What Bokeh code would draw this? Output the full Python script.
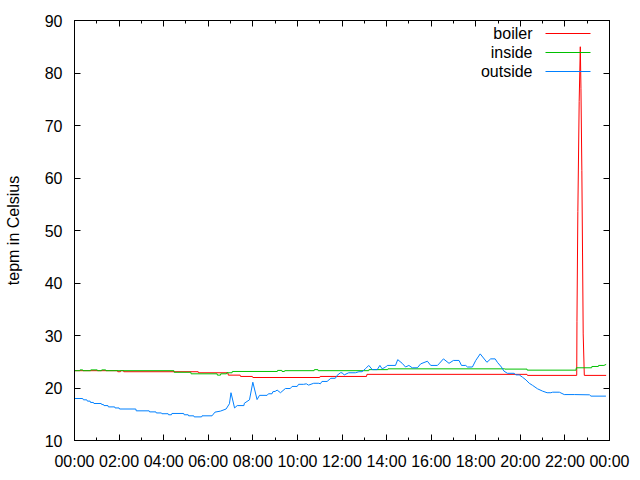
from bokeh.plotting import figure
from bokeh.models import Range1d, FixedTicker, LinearAxis, Label, Arrow
from bokeh.embed import file_html
from bokeh.resources import INLINE

# ---------------- data (hours of day, degrees Celsius) ----------------
boiler_time = [0.0, 1.93, 1.94, 2.06, 2.07, 2.20, 2.21, 5.55, 5.56, 6.88, 6.90, 7.43, 7.45, 7.98,
               8.00, 11.00, 11.02, 13.10, 13.12, 20.30, 20.32, 22.53, 22.54, 22.58, 22.64, 22.69,
               22.72, 22.76, 22.79, 22.82, 22.87, 23.85]
boiler_temp = [23.3, 23.3, 23.1, 23.1, 23.3, 23.3, 23.1, 23.1, 22.9, 22.9, 22.45, 22.45, 22.2, 22.2,
               22.0, 22.0, 22.2, 22.2, 22.6, 22.6, 22.4, 22.4, 32.7, 53.6, 74.6, 85.0,
               77.0, 61.4, 45.9, 30.3, 22.4, 22.4]

inside_time = [0.0, 0.24, 0.25, 0.37, 0.38, 0.72, 0.73, 1.02, 1.03, 1.21, 1.22, 1.40, 1.41, 4.46,
               4.47, 5.22, 5.23, 6.40, 6.41, 6.55, 6.56, 6.82, 6.83, 7.07, 7.08, 9.10, 9.11, 9.30,
               9.31, 9.42, 9.43, 10.75, 10.76, 10.92, 10.93, 13.20, 13.21, 14.05, 14.06, 19.30,
               19.31, 20.30, 20.31, 22.50, 22.51, 23.20, 23.21, 23.50, 23.51, 23.75, 23.85]
inside_temp = [23.3, 23.3, 23.45, 23.45, 23.3, 23.3, 23.45, 23.45, 23.3, 23.3, 23.45, 23.45, 23.3, 23.3,
               23.0, 23.0, 22.7, 22.7, 22.45, 22.45, 22.7, 22.7, 22.9, 22.9, 23.15, 23.15, 23.35, 23.35,
               23.15, 23.15, 23.3, 23.3, 23.5, 23.5, 23.3, 23.3, 23.5, 23.5, 23.65, 23.65,
               23.6, 23.6, 23.4, 23.4, 23.85, 23.85, 24.1, 24.1, 24.3, 24.3, 24.5]

outside_time = [0.0, 0.37, 0.40, 0.55, 0.58, 0.70, 0.72, 0.85, 0.87, 1.20, 1.22, 1.30, 1.32, 1.50,
                1.52, 1.80, 1.82, 2.00, 2.02, 2.75, 2.77, 3.35, 3.37, 3.65, 3.67, 3.90, 3.92, 4.20,
                4.22, 4.35, 4.37, 4.90, 4.92, 5.10, 5.12, 5.35, 5.37, 5.70, 5.72, 6.17, 6.30, 6.55,
                6.80, 6.95, 7.02, 7.18, 7.30, 7.60, 7.62, 7.85, 8.00, 8.19, 8.30, 8.64, 8.70, 8.86,
                8.90, 9.00, 9.09, 9.24, 9.46, 9.68, 9.76, 9.99, 10.05, 10.28, 10.40, 10.50, 10.73,
                10.96, 11.03, 11.10, 11.33, 11.50, 11.70, 11.78, 11.93, 12.00, 12.10, 12.30, 12.60,
                12.76, 12.90, 13.06, 13.20, 13.36, 13.58, 13.70, 13.80, 13.96, 14.03, 14.40, 14.50,
                14.70, 14.85, 15.00, 15.15, 15.38, 15.53, 15.83, 15.98, 16.28, 16.35, 16.55, 16.80,
                17.00, 17.25, 17.36, 17.55, 17.63, 17.85, 18.00, 18.20, 18.50, 18.67, 18.87, 18.97,
                19.15, 19.27, 19.42, 19.72, 19.80, 19.95, 20.10, 20.25, 20.40, 20.55, 20.77, 21.00,
                21.20, 21.37, 21.45, 21.75, 21.97, 22.42, 23.10, 23.17, 23.84]
outside_temp = [18.0, 18.0, 17.75, 17.75, 17.5, 17.5, 17.25, 17.25, 17.05, 17.05, 16.85, 16.85, 16.65, 16.65,
                16.4, 16.4, 16.2, 16.2, 16.0, 16.0, 15.65, 15.65, 15.45, 15.45, 15.25, 15.25, 15.1, 15.1,
                14.9, 14.9, 15.15, 15.15, 14.9, 14.9, 14.7, 14.7, 14.5, 14.5, 14.7, 14.7, 15.4, 15.6,
                16.0, 17.0, 19.1, 16.2, 16.65, 16.65, 17.1, 17.75, 21.1, 17.8, 18.6, 18.6, 18.9, 18.9,
                19.3, 19.35, 19.6, 19.1, 19.9, 19.9, 20.3, 20.3, 20.7, 20.7, 20.8, 20.55, 20.9,
                20.9, 20.8, 21.25, 21.25, 21.85, 21.85, 22.4, 22.9, 22.9, 22.5, 22.9, 22.9,
                23.1, 23.1, 23.7, 24.3, 23.5, 23.5, 24.3, 23.65, 24.0, 24.3, 24.3, 25.4,
                24.7, 24.0, 24.3, 23.85, 23.85, 24.6, 25.1, 24.3, 24.3, 24.6, 25.55, 24.7,
                25.25, 25.25, 24.3, 24.3, 24.0, 24.0, 25.25, 26.5, 24.9, 25.55, 25.55, 24.9,
                24.0, 23.2, 22.8, 22.8, 22.5, 22.5, 22.05, 21.55, 20.9, 20.5, 19.85, 19.4,
                19.1, 19.1, 19.2, 19.2, 18.75, 18.75, 18.7, 18.45, 18.45]

series_names = ["boiler", "inside", "outside"]
series_colors = ["#ff0000", "#00c000", "#0080ff"]

x_ticks = [0, 2, 4, 6, 8, 10, 12, 14, 16, 18, 20, 22, 24]
x_tick_labels = ["00:00", "02:00", "04:00", "06:00", "08:00", "10:00", "12:00",
                 "14:00", "16:00", "18:00", "20:00", "22:00", "00:00"]
x_minor_ticks = [1, 3, 5, 7, 9, 11, 13, 15, 17, 19, 21, 23]
y_ticks = [10, 20, 30, 40, 50, 60, 70, 80, 90]
y_label = "tepm in Celsius"

FONT = "Liberation Sans"
FS = "16px"

p = figure(width=640, height=480, output_backend="svg", toolbar_location=None,
           x_range=Range1d(0, 24), y_range=Range1d(10, 90),
           x_axis_type=None, y_axis_type=None,
           min_border_left=74, min_border_right=31, min_border_top=20, min_border_bottom=40)
p.background_fill_color = "white"
p.border_fill_color = "white"
p.outline_line_color = "black"
p.outline_line_width = 1
p.xgrid.visible = False
p.ygrid.visible = False

xt = FixedTicker(ticks=x_ticks, minor_ticks=x_minor_ticks)
yt = FixedTicker(ticks=y_ticks, minor_ticks=[])


def style_axis(ax, labels=True):
    ax.axis_line_color = "black"
    ax.major_tick_in = 6
    ax.major_tick_out = 0
    ax.minor_tick_in = 3
    ax.minor_tick_out = 0
    ax.major_tick_line_color = "black"
    ax.minor_tick_line_color = "black"
    ax.major_label_text_font = FONT
    ax.major_label_text_font_size = FS
    ax.major_label_text_color = "#000000"
    if labels:
        ax.major_label_standoff = 12
    else:
        ax.major_label_standoff = 0


xb = LinearAxis(ticker=xt, major_label_overrides={t: s for t, s in zip(x_ticks, x_tick_labels)})
style_axis(xb)
p.add_layout(xb, "below")

# mirrored axes (ticks only, like gnuplot's "mirror" tics)
xa = LinearAxis(ticker=xt, major_label_overrides={t: "" for t in x_ticks})
style_axis(xa, labels=False)
p.add_layout(xa, "above")

yl = LinearAxis(ticker=yt, axis_label=y_label)
style_axis(yl)
yl.axis_label_text_font = FONT
yl.axis_label_text_font_size = FS
yl.axis_label_text_font_style = "normal"
yl.axis_label_text_color = "#000000"
yl.axis_label_standoff = 20
p.add_layout(yl, "left")

yr = LinearAxis(ticker=yt, major_label_overrides={t: "" for t in y_ticks})
style_axis(yr, labels=False)
yr.minor_tick_in = 0
p.add_layout(yr, "right")

data = [(boiler_time, boiler_temp), (inside_time, inside_temp), (outside_time, outside_temp)]
for (t, v), c in zip(data, series_colors):
    p.line(t, v, line_color=c, line_width=1)

# gnuplot-style key (text right-aligned, sample line to its right), top-right inside frame
for i, (name, c) in enumerate(zip(series_names, series_colors)):
    yy = 407 - i * 19
    p.add_layout(Label(x=458, y=yy, x_units="screen", y_units="screen", text=name,
                       text_align="right", text_baseline="middle",
                       text_font=FONT, text_font_size=FS, text_color="#000000"))
    p.add_layout(Arrow(end=None, x_start=471, y_start=yy, x_end=516, y_end=yy,
                       start_units="screen", end_units="screen",
                       line_color=c, line_width=1))

open("out.html", "w").write(file_html(p, INLINE))
